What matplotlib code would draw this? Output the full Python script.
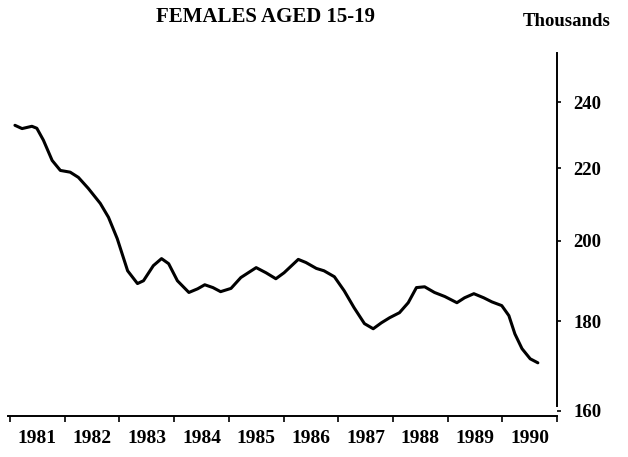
import matplotlib
matplotlib.use("Agg")
import matplotlib.pyplot as plt
from matplotlib.ticker import FixedLocator, NullLocator, FixedFormatter, NullFormatter

# ---- data ----
dates = [1981.09, 1981.22, 1981.40, 1981.49, 1981.61, 1981.77, 1981.92,
         1982.10, 1982.25, 1982.43, 1982.65, 1982.80, 1982.96,
         1983.15, 1983.33, 1983.44, 1983.62, 1983.77, 1983.90,
         1984.06, 1984.27, 1984.43, 1984.56, 1984.71, 1984.85,
         1985.04, 1985.22, 1985.50, 1985.68, 1985.86,
         1986.01, 1986.27, 1986.41, 1986.60, 1986.74, 1986.93,
         1987.11, 1987.29, 1987.48, 1987.64, 1987.79, 1987.94,
         1988.12, 1988.28, 1988.43, 1988.58, 1988.76, 1988.95,
         1989.17, 1989.31, 1989.48, 1989.66, 1989.81, 1989.99,
         1990.12, 1990.23, 1990.36, 1990.51, 1990.65]
values = [232.8, 231.8, 232.5, 231.9, 228.3, 222.3, 219.4,
          218.9, 217.4, 214.3, 210.1, 206.3, 200.6,
          192.3, 189.1, 189.8, 193.6, 195.4, 194.1,
          189.8, 186.9, 187.8, 188.8, 188.1, 187.1,
          187.9, 190.6, 193.1, 191.8, 190.3,
          191.8, 195.2, 194.4, 192.9, 192.3, 190.8,
          187.3, 183.2, 179.4, 178.2, 179.6, 180.8,
          182.0, 184.4, 188.1, 188.3, 186.9, 185.9,
          184.4, 185.6, 186.6, 185.6, 184.6, 183.7,
          181.3, 177.0, 173.6, 171.3, 170.4]
year_labels = ["1981", "1982", "1983", "1984", "1985",
               "1986", "1987", "1988", "1989", "1990"]
year_bounds = [1981, 1982, 1983, 1984, 1985, 1986, 1987, 1988, 1989, 1990, 1991]
y_ticks = [160, 180, 200, 220, 240]
title = "FEMALES AGED 15-19"
unit = "Thousands"

plt.rcParams['font.family'] = ['Liberation Serif', 'DejaVu Serif']
plt.rcParams['font.weight'] = 'bold'

fig = plt.figure(figsize=(6.28, 4.57), dpi=100)
W, H = 628, 457
left, right, top, bottom = 8, 557, 53, 416
ax = fig.add_axes([left / W, 1 - bottom / H, (right - left) / W, (bottom - top) / H])

ax.plot(dates, values, color='black', lw=2.2, solid_capstyle='round', solid_joinstyle='round')

ax.set_yscale('log')
ax.set_ylim(158.9, 256.0)
ax.set_xlim(1980.963, 1991.0)

for s in ['top', 'left']:
    ax.spines[s].set_visible(False)
ax.spines['right'].set_bounds(161.0, 256.0)
ax.spines['right'].set_linewidth(1.4)
ax.spines['bottom'].set_linewidth(1.4)

ax.yaxis.tick_right()
ax.yaxis.set_major_locator(FixedLocator(y_ticks))
ax.yaxis.set_major_formatter(FixedFormatter([str(v) for v in y_ticks]))
ax.yaxis.set_minor_locator(NullLocator())
ax.yaxis.set_minor_formatter(NullFormatter())
ax.tick_params(axis='y', which='major', direction='out', length=3, width=1.2,
               pad=9, labelsize=13.5)

ax.xaxis.set_major_locator(FixedLocator(year_bounds))
ax.xaxis.set_major_formatter(NullFormatter())
mids = [b + 0.5 for b in year_bounds[:-1]]
ax.xaxis.set_minor_locator(FixedLocator(mids))
ax.xaxis.set_minor_formatter(FixedFormatter(year_labels))
ax.tick_params(axis='x', which='major', direction='out', length=4, width=1.2)
ax.tick_params(axis='x', which='minor', length=0, pad=10, labelsize=14)

fig.text(265 / W, 1 - 17 / H, title, ha='center', va='center', fontsize=15, fontweight='bold')
fig.text(611 / W, 1 - 21 / H, unit, ha='right', va='center', fontsize=13.5, fontweight='bold')

fig.savefig('out.png', dpi=100)
